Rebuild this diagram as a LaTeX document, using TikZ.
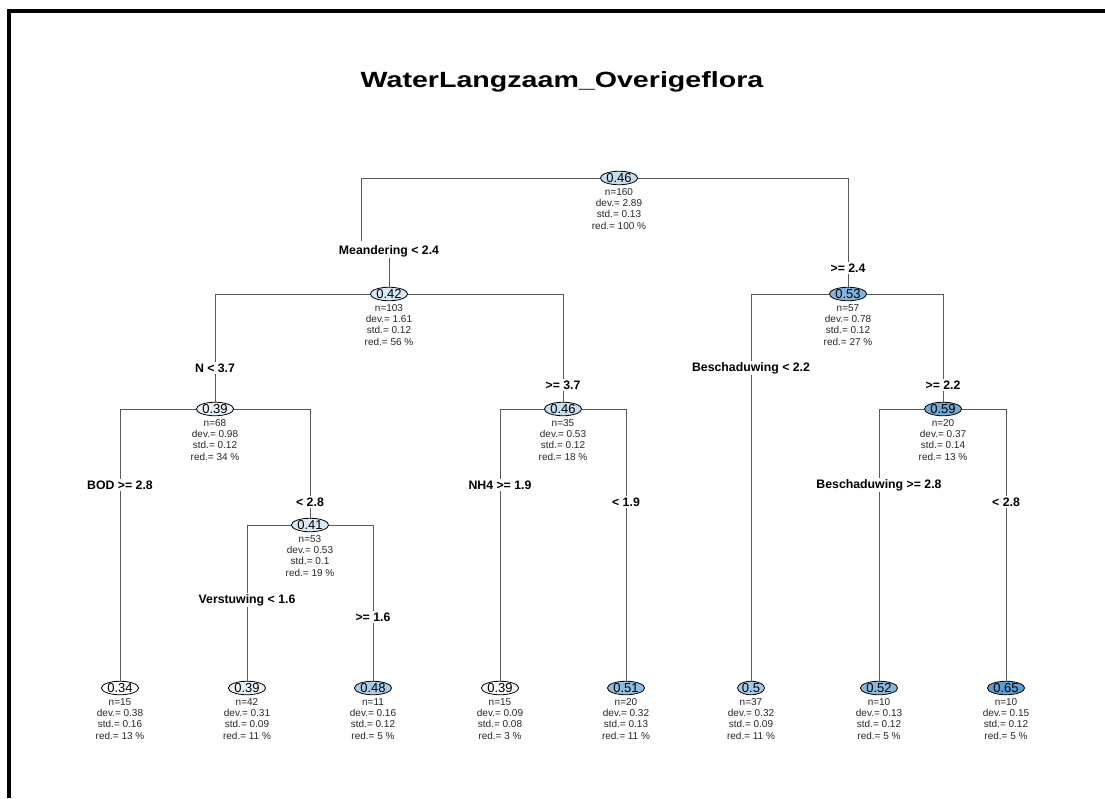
\documentclass[tikz,border=0pt]{standalone}
\usepackage{fontspec}
\setmainfont{Liberation Sans}
\newfontfamily\titlefont[FakeStretch=1.3]{Liberation Sans}
\usetikzlibrary{shapes.geometric,positioning}

\definecolor{treeblue}{RGB}{66,140,200}
\definecolor{treeline}{gray}{0.35}

\tikzset{
  val/.style={shape=ellipse,draw=black,line width=0.8pt,fill=treeblue!#1,
    inner xsep=0.5pt,inner ysep=0pt,minimum height=13.5pt,
    font=\fontsize{13}{13}\selectfont},
  stats/.style={align=center,inner sep=0pt,text=black!85,
    font=\fontsize{10}{11.3}\selectfont},
  rule/.style={fill=white,inner sep=1.5pt,font=\fontsize{12.3}{14}\selectfont\bfseries},
  branch/.style={draw=treeline,line width=0.9pt}
}
\newcommand{\stat}[4]{n=#1\\dev.= #2\\std.= #3\\red.= #4 \%}

\begin{document}
\begin{tikzpicture}[x=1pt,y=-1pt]
  \useasboundingbox (0,0) rectangle (1105,798);
  \draw[line width=4pt] (1105,11) -- (9,11) -- (9,798);
  \node[font=\titlefont\fontsize{22}{24}\selectfont\bfseries] (title) at (562,82) {WaterLangzaam\_Overigeflora};

  % splits
  \node[val=30] (t) at (619,178) {0.46};
  \node[val=20] (tl) at (389,294) {0.42};
  \node[val=65] (tr) at (848,294) {0.53};
  \node[val=12] (tll) at (215,409) {0.39};
  \node[val=30] (tlr) at (563,409) {0.46};
  \node[val=75] (trr) at (943,409) {0.59};
  \node[val=18] (tllr) at (310,525) {0.41};

  % leaves
  \node[val=0]  (tlll) at (120,688) {0.34};
  \node[val=10] (tllrl) at (247,688) {0.39};
  \node[val=45] (tllrr) at (373,688) {0.48};
  \node[val=3]  (tlrl) at (500,688) {0.39};
  \node[val=58] (tlrr) at (626,688) {0.51};
  \node[val=48] (trl) at (751,688) {0.5};
  \node[val=62] (trrl) at (879,688) {0.52};
  \node[val=85] (trrr) at (1006,688) {0.65};

  % node statistics
  \node[stats,below=3pt of t] (ts) {\stat{160}{2.89}{0.13}{100}};
  \node[stats,below=3pt of tl] (tls) {\stat{103}{1.61}{0.12}{56}};
  \node[stats,below=3pt of tr] (trs) {\stat{57}{0.78}{0.12}{27}};
  \node[stats,below=3pt of tll] (tlls) {\stat{68}{0.98}{0.12}{34}};
  \node[stats,below=3pt of tlr] (tlrs) {\stat{35}{0.53}{0.12}{18}};
  \node[stats,below=3pt of trr] (trrs) {\stat{20}{0.37}{0.14}{13}};
  \node[stats,below=3pt of tllr] (tllrs) {\stat{53}{0.53}{0.1}{19}};
  \node[stats,below=3pt of tlll] (tllls) {\stat{15}{0.38}{0.16}{13}};
  \node[stats,below=3pt of tllrl] (tllrls) {\stat{42}{0.31}{0.09}{11}};
  \node[stats,below=3pt of tllrr] (tllrrs) {\stat{11}{0.16}{0.12}{5}};
  \node[stats,below=3pt of tlrl] (tlrls) {\stat{15}{0.09}{0.08}{3}};
  \node[stats,below=3pt of tlrr] (tlrrs) {\stat{20}{0.32}{0.13}{11}};
  \node[stats,below=3pt of trl] (trls) {\stat{37}{0.32}{0.09}{11}};
  \node[stats,below=3pt of trrl] (trrls) {\stat{10}{0.13}{0.12}{5}};
  \node[stats,below=3pt of trrr] (trrrs) {\stat{10}{0.15}{0.12}{5}};

  % split rules on the branches
  \node[rule,yshift=-73pt] (tlq) at (tl |- t) {Meandering < 2.4};
  \node[rule,yshift=-90pt] (trq) at (tr |- t) {>= 2.4};
  \node[rule,yshift=-74pt] (tllq) at (tll |- tl) {N < 3.7};
  \node[rule,yshift=-91pt] (tlrq) at (tlr |- tl) {>= 3.7};
  \node[rule,yshift=-74pt] (trlq) at (trl |- tr) {Beschaduwing < 2.2};
  \node[rule,yshift=-91pt] (trrq) at (trr |- tr) {>= 2.2};
  \node[rule,yshift=-76pt] (tlllq) at (tlll |- tll) {BOD >= 2.8};
  \node[rule,yshift=-93pt] (tllrq) at (tllr |- tll) {< 2.8};
  \node[rule,yshift=-76pt] (tlrlq) at (tlrl |- tlr) {NH4 >= 1.9};
  \node[rule,yshift=-93pt] (tlrrq) at (tlrr |- tlr) {< 1.9};
  \node[rule,yshift=-76pt] (trrlq) at (trrl |- trr) {Beschaduwing >= 2.8};
  \node[rule,yshift=-93pt] (trrrq) at (trrr |- trr) {< 2.8};
  \node[rule,yshift=-75pt] (tllrlq) at (tllrl |- tllr) {Verstuwing < 1.6};
  \node[rule,yshift=-92pt] (tllrrq) at (tllrr |- tllr) {>= 1.6};

  % branches; the root's left arm drops left of its rule
  \coordinate (tlk) at (361,241);
  \path[branch] (t) -| (tlk)  (tlq) -- (tl)  (t) -| (trq)  (trq) -- (tr);
  \path[branch] (tl) -| (tllq)  (tllq) -- (tll)  (tl) -| (tlrq)  (tlrq) -- (tlr);
  \path[branch] (tr) -| (trlq)  (trlq) -- (trl)  (tr) -| (trrq)  (trrq) -- (trr);
  \path[branch] (tll) -| (tlllq)  (tlllq) -- (tlll)  (tll) -| (tllrq)  (tllrq) -- (tllr);
  \path[branch] (tlr) -| (tlrlq)  (tlrlq) -- (tlrl)  (tlr) -| (tlrrq)  (tlrrq) -- (tlrr);
  \path[branch] (trr) -| (trrlq)  (trrlq) -- (trrl)  (trr) -| (trrrq)  (trrrq) -- (trrr);
  \path[branch] (tllr) -| (tllrlq)  (tllrlq) -- (tllrl)  (tllr) -| (tllrrq)  (tllrrq) -- (tllrr);
\end{tikzpicture}
\end{document}
